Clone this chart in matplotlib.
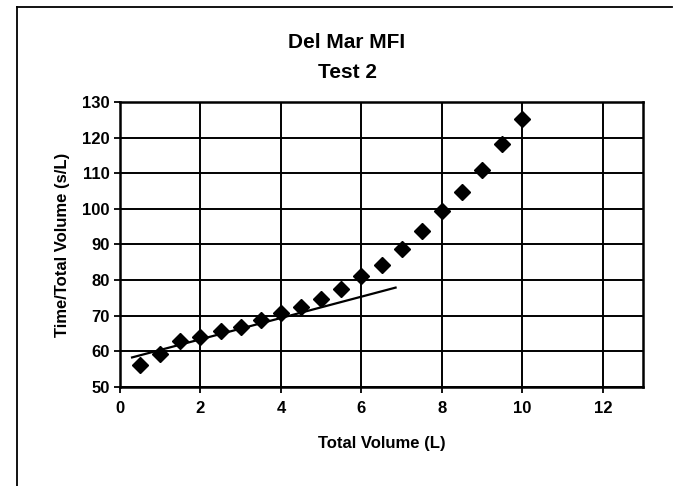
import numpy as np
import matplotlib
matplotlib.use("Agg")
import matplotlib.pyplot as plt
from matplotlib.lines import Line2D

plt.rcParams['font.family'] = ['Liberation Sans', 'DejaVu Sans']
plt.rcParams['font.weight'] = 'bold'

# Data
volume = [0.5, 1.0, 1.5, 2.0, 2.5, 3.0, 3.5, 4.0, 4.5, 5.0,
          5.5, 6.0, 6.5, 7.0, 7.5, 8.0, 8.5, 9.0, 9.5, 10.0]
time_per_vol = [56.2, 59.2, 62.8, 64.0, 65.6, 66.8, 68.9, 70.7, 72.4, 74.6,
                77.4, 81.2, 84.3, 88.7, 93.8, 99.3, 104.6, 110.8, 118.2, 125.2]
trend_x = [0.3, 6.85]
trend_y = [58.3, 77.9]

xticks = [0, 2, 4, 6, 8, 10, 12]
yticks = [50, 60, 70, 80, 90, 100, 110, 120, 130]

fig = plt.figure(figsize=(6.76, 4.86), dpi=100)
ax = fig.add_axes([120/676, 1 - 387/486, (643 - 120)/676, (387 - 102)/486])

ax.plot(volume, time_per_vol, linestyle='none', marker='D', markersize=8,
        color='black', zorder=3)
ax.plot(trend_x, trend_y, color='black', linewidth=1.6, zorder=3)

ax.set_xlim(0, 13)
ax.set_ylim(50, 130)
ax.set_xticks(xticks)
ax.set_yticks(yticks)
ax.grid(True, color='black', linewidth=1.4)
ax.set_axisbelow(True)
for sp in ax.spines.values():
    sp.set_linewidth(1.8)
ax.tick_params(direction='out', length=4, width=1.3, labelsize=12)
ax.tick_params(axis='x', pad=6)
ax.tick_params(axis='y', pad=3.5)

ax.set_xlabel('Total Volume (L)', fontsize=12, fontweight='bold')
ax.set_ylabel('Time/Total Volume (s/L)', fontsize=12, fontweight='bold')
ax.xaxis.set_label_coords(0.5, (387 - 443) / 285)
ax.xaxis.label.set_va('center')
ax.yaxis.set_label_coords((63 - 120) / 523, 0.5)
ax.yaxis.label.set_va('center')

fig.text(347/676, 1 - 43/486, 'Del Mar MFI', ha='center', va='center',
         fontsize=15, fontweight='bold')
fig.text(347/676, 1 - 72/486, 'Test 2', ha='center', va='center',
         fontsize=15, fontweight='bold')

# outer chart frame (top and left edges only)
fig.add_artist(Line2D([17/676, 672/676], [1 - 7/486, 1 - 7/486],
                      transform=fig.transFigure, color='black', linewidth=1.3))
fig.add_artist(Line2D([17/676, 17/676], [0, 1 - 7/486],
                      transform=fig.transFigure, color='black', linewidth=1.3))

fig.savefig('out.png', dpi=100)
